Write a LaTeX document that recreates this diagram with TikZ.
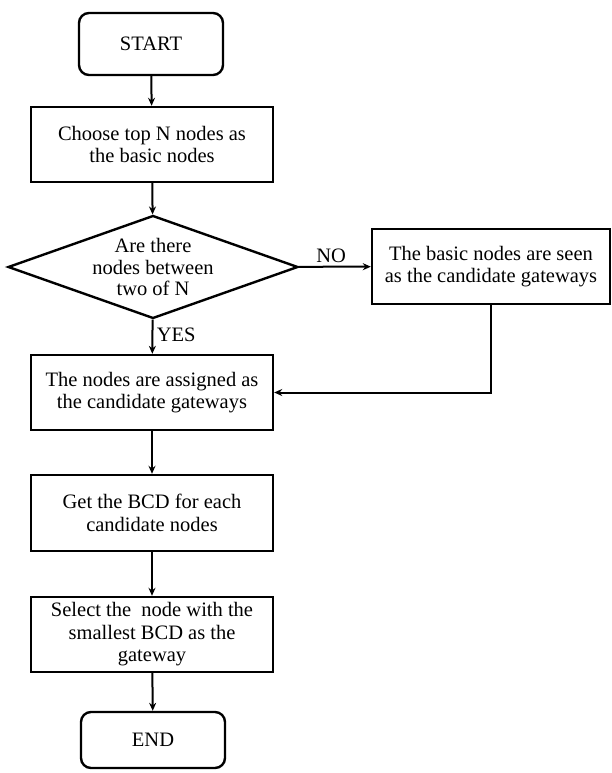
\documentclass[tikz,border=0pt]{standalone}
\usepackage{fontspec}
\setmainfont{Liberation Serif}
\usepackage{tikz}
\usetikzlibrary{calc, positioning, arrows.meta, shapes.geometric}

\begin{document}
\begin{tikzpicture}[
  x=1pt, y=-1pt,
  box/.style={rectangle, minimum width=242pt, minimum height=75pt, inner sep=1pt, text centered, draw, line width=2.4pt, font=\fontsize{20.5}{22.5}\selectfont, align=center},
  termbox/.style={box, rounded corners=10pt, minimum width=144pt},
  decbox/.style={diamond, aspect=2.8, inner sep=-6pt, minimum width=290pt, minimum height=103pt, draw, line width=2.4pt, font=\fontsize{20.5}{21.5}\selectfont, align=center},
  arr/.style={-{Stealth[length=8pt, width=7pt]}, line width=2pt},
  lbl/.style={font=\fontsize{20.5}{22}\selectfont}
]
\useasboundingbox (0,0) rectangle (612,773);

\node[termbox, minimum height=62pt] (start) at (151,44) {START};
\node[box] (choose) at (152,144.5) {Choose top N nodes as\\the basic nodes};
\node[decbox] (dec) at (153,267) {Are there\\nodes between\\two of N};
\node[box, minimum width=238pt] (basic) at (491,266.5) {The basic nodes are seen\\as the candidate gateways};
\node[box] (assign) at (152,392.5) {The nodes are assigned as\\the candidate gateways};
\node[box, minimum height=76pt] (bcd) at (152,513) {Get the BCD for each\\candidate nodes};
\node[box] (select) at (152,634.5) {Select the ~node with the\\smallest BCD as the\\gateway};
\node[termbox, minimum height=56pt] (end) at (153,740) {END};

\draw[arr] (start) -- (choose);
\draw[arr] (choose) -- (dec);
\draw[arr] (dec) -- node[lbl, right, pos=0.45]{YES} (assign);
\draw[arr] (dec) -- node[lbl, above, pos=0.45]{NO} (basic);
\draw[arr] (basic.south) |- (assign.east);
\draw[arr] (assign) -- (bcd);
\draw[arr] (bcd) -- (select);
\draw[arr] (select) -- (end);
\end{tikzpicture}
\end{document}
